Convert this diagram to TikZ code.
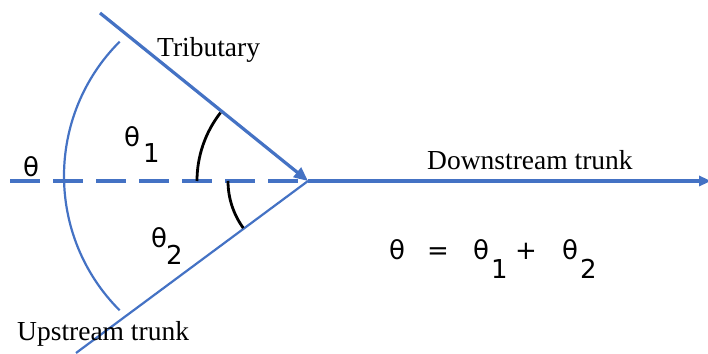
\documentclass[tikz,border=0pt]{standalone}
\usepackage{fontspec}
\setmainfont{Liberation Serif}
\newfontfamily\symfont{DejaVu Sans}
\usetikzlibrary{arrows.meta}
\definecolor{riverblue}{HTML}{4472C4}

\begin{document}
\begin{tikzpicture}[x=1pt,y=1pt,
  river/.style={draw=riverblue, line width=3.2pt},
  thin river/.style={draw=riverblue, line width=2.2pt},
  angmark/.style={draw=black, line width=2.8pt},
  word/.style={font=\fontsize{27.5}{30}\selectfont, inner sep=0pt, anchor=base west},
  sym/.style={font=\symfont\fontsize{26}{28}\selectfont, inner sep=0pt, anchor=base west}]
\useasboundingbox (0,0) rectangle (708,353);
% Draw junction and line ends
\coordinate (J) at (308,172);   % junction
\coordinate (L) at (10,172);    % left end of theta line
\coordinate (R) at (711,172);   % downstream end
\coordinate (T) at (100,340);   % tributary source
\coordinate (U) at (76,0);      % upstream source
\coordinate (C) at (254,177);   % centre of big arc

% Draw river lines
\draw[river, line width=4pt, dash pattern=on 30pt off 13pt] (L) -- (J);
\draw[river, -{Triangle[length=12pt,width=10pt]}] (J) -- (R);
\draw[river, -{Triangle[length=14pt,width=12pt]}] (T) -- (J);
\draw[thin river] (J) -- (U);

% Draw angle arcs
\draw[thin river] ([shift={(135:190)}]C) arc[start angle=135, end angle=225, radius=190];
\draw[angmark] ([shift={(180:111)}]J) arc[start angle=180, end angle=142, radius=111];
\draw[angmark] ([shift={(180:80)}]J) arc[start angle=180, end angle=216, radius=80];

% Draw labels
\node[word] (trib) at (157,296) {Tributary};
\node[word] (down) at (427,183) {Downstream trunk};
\node[word] (up) at (17,13) {Upstream trunk};
\node[sym] (th) at (23,176) {θ};
\node[sym] (th1) at (124,206) {\makebox[19pt][l]{θ}\raisebox{-16pt}{1}};
\node[sym] (th2) at (151,105) {\makebox[15pt][l]{θ}\raisebox{-17pt}{2}};
\node[sym] (eq) at (389,93) {\makebox[38pt][l]{θ}\makebox[46pt][l]{=}\makebox[18pt][l]{θ}\makebox[24pt][l]{\raisebox{-19pt}{1}}\makebox[47pt][l]{+}\makebox[18pt][l]{θ}\raisebox{-19pt}{2}};
\end{tikzpicture}
\end{document}
